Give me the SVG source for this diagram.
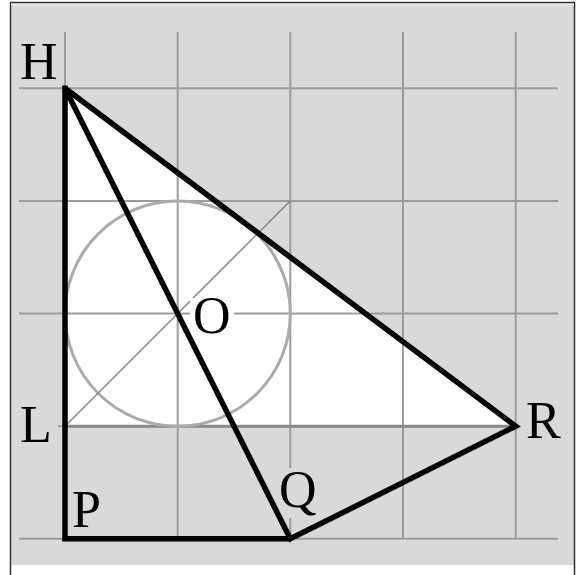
<svg xmlns="http://www.w3.org/2000/svg" width="580" height="575" viewBox="0 0 580 575">
<style>
.grid{stroke:#9c9c9c;stroke-width:2;fill:none}
.thick{stroke:#000;stroke-width:5.5;fill:none;stroke-linejoin:miter;stroke-linecap:square}
.lbl{font-family:"Liberation Serif","Times New Roman",serif;font-size:52px;fill:#000}
</style>
<rect x="0" y="0" width="580" height="575" fill="#ffffff"/>
<rect x="10.5" y="3" width="564" height="562" fill="#d9d9d9"/>
<line x1="10.5" y1="2.5" x2="10.5" y2="575" stroke="#333" stroke-width="1.5"/>
<line x1="574.5" y1="2.5" x2="574.5" y2="575" stroke="#333" stroke-width="1.5"/>
<line x1="10" y1="2.5" x2="575" y2="2.5" stroke="#333" stroke-width="1.5"/>
<line x1="11" y1="4.5" x2="574" y2="4.5" stroke="#eeeeee" stroke-width="1.5"/>

<polygon id="triangle-fill" points="65,88 65,426 516,426" fill="#ffffff"/>

<g id="grid">
<line class="grid" x1="65" y1="32" x2="65" y2="539"/>
<line class="grid" x1="177.7" y1="32" x2="177.7" y2="539"/>
<line class="grid" x1="290.3" y1="32" x2="290.3" y2="539"/>
<line class="grid" x1="403" y1="32" x2="403" y2="539"/>
<line class="grid" x1="515.7" y1="32" x2="515.7" y2="539"/>
<line class="grid" x1="19" y1="88.3" x2="558" y2="88.3"/>
<line class="grid" x1="19" y1="200.9" x2="558" y2="200.9"/>
<line class="grid" x1="19" y1="313.6" x2="558" y2="313.6"/>
<line class="grid" x1="58" y1="426.2" x2="520" y2="426.2"/>
<line class="grid" x1="19" y1="538.8" x2="558" y2="538.8"/>
</g>

<line id="LR" x1="65" y1="426.2" x2="516" y2="426.2" stroke="#888" stroke-width="3"/>
<circle id="incircle" cx="177.7" cy="313.6" r="112.6" fill="none" stroke="#aaaaaa" stroke-width="3"/>
<line id="diagonal" x1="65" y1="426.2" x2="290.3" y2="200.9" stroke="#888" stroke-width="1.5"/>

<g id="label-backgrounds">
<rect x="279" y="468" width="40" height="50" fill="#d9d9d9"/>
<rect x="190" y="298" width="44" height="38" fill="#ffffff"/>
</g>

<g id="connectors">
<polyline class="thick" points="65,88.3 65,538.8 290.3,538.8 515.7,426.2 65,88.3 290.3,538.8"/>
</g>

<g id="H"><text class="lbl" x="20" y="79">H</text></g>
<g id="L"><text class="lbl" x="20" y="442">L</text></g>
<g id="P"><text class="lbl" x="72" y="527">P</text></g>
<g id="Q"><text class="lbl" x="279" y="507">Q</text></g>
<g id="R"><text class="lbl" x="526" y="438">R</text></g>
<g id="O"><text class="lbl" x="193" y="333">O</text></g>
</svg>
